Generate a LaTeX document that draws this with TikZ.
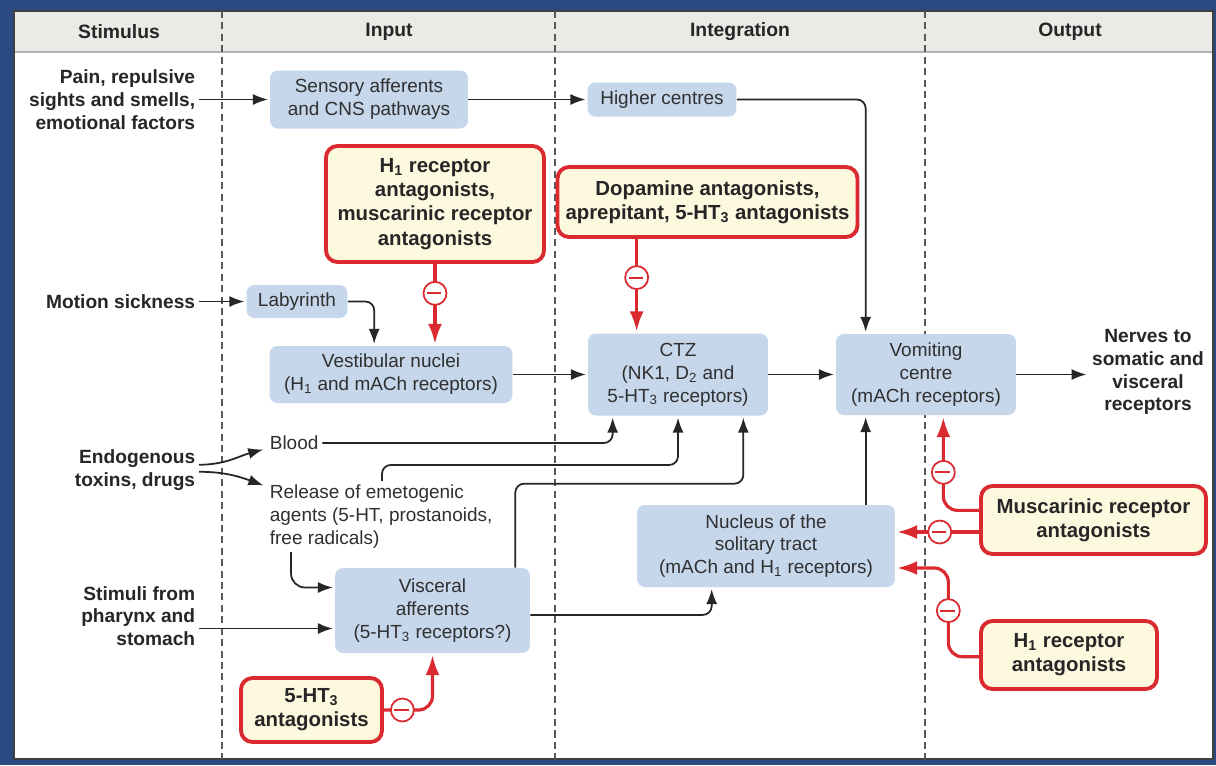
\documentclass[tikz,border=0pt]{standalone}
\usepackage{fontspec}
\setmainfont{Liberation Sans}
\usetikzlibrary{arrows.meta,calc}

\definecolor{slide}{HTML}{2B4A82}
\definecolor{boxblue}{HTML}{C6D6EB}
\definecolor{drugfill}{HTML}{FCF9DF}
\definecolor{drugred}{HTML}{DA2A30}
\definecolor{headgray}{HTML}{ECEAE6}
\definecolor{inkgray}{HTML}{303030}

\begin{document}
\begin{tikzpicture}[x=0.02cm,y=-0.02cm,
    site/.style={fill=boxblue,rounded corners=4.5pt,align=center,
        text=inkgray,font={\fontsize{10.8}{13}\selectfont},inner sep=0pt},
    drug/.style={draw=drugred,line width=2.2pt,fill=drugfill,
        rounded corners=6.5pt,align=center,text=black!85,
        font={\fontsize{11.6}{13.8}\selectfont\bfseries},inner sep=0pt},
    cause/.style={align=right,anchor=east,text=black!85,
        font={\fontsize{10.9}{13}\selectfont\bfseries},inner sep=2pt},
    plain/.style={align=left,anchor=west,text=inkgray,
        font={\fontsize{10.8}{13}\selectfont},inner sep=2pt},
    heading/.style={font={\fontsize{11}{13}\selectfont\bfseries},text=black!85},
    flow/.style={-{Latex[length=3mm,width=2.2mm]},line width=1pt,
        black!85,shorten >=1pt},
    block/.style={-{Latex[length=4mm,width=2.8mm]},line width=1.8pt,
        drugred,shorten >=1pt},
    minus/.style={circle,draw=drugred,fill=white,line width=1pt,
        minimum size=0.46cm,inner sep=0pt,
        path picture={\draw[-,drugred,line width=1.1pt]
            ([xshift=-0.16cm]path picture bounding box.center) --
            ([xshift=0.16cm]path picture bounding box.center);}},
    divider/.style={dash pattern=on 4pt off 2.5pt,gray!70!black,line width=0.6pt},
    ]
    % Slide and panel
    \fill[slide] (0,0) rectangle (1216,765);
    \fill[white] (14,11) rectangle (1213,759);
    \fill[headgray] (14,11) rectangle (1213,52);
    \draw[gray!60,line width=0.6pt] (14,52) -- (1213,52);
    \draw[black!75,line width=0.8pt] (14,11) rectangle (1213,759);
    % Column dividers
    \foreach \xd in {222,555,925}
        \draw[divider] (\xd,11) -- (\xd,759);

    % Column headings
    \node[heading] (hstim)   at (119,32)  {Stimulus};
    \node[heading] (hinput)  at (389,32)  {Input};
    \node[heading] (hinteg)  at (740,32)  {Integration};
    \node[heading] (houtput) at (1070,32) {Output};

    % Stimuli
    \node[cause] (pain)   at (199,99.5) {Pain, repulsive\\sights and smells,\\emotional factors};
    \node[cause] (motion) at (199,301.5) {Motion sickness};
    \node[cause] (endo)   at (199,470) {Endogenous\\toxins, drugs};
    \node[cause] (stim)   at (199,616) {Stimuli from\\pharynx and\\stomach};

    % Sites
    \node[site,minimum width=3.96cm,minimum height=1.16cm] (sens) at (369,99.5)
        {Sensory afferents\\and CNS pathways};
    \node[site,minimum width=2.98cm,minimum height=0.68cm] (high) at (662,99.5)
        {Higher centres};
    \node[site,minimum width=2.02cm,minimum height=0.66cm] (laby) at (297,301.5)
        {Labyrinth};
    \node[site,minimum width=4.86cm,minimum height=1.14cm] (vest) at (391,374.5)
        {Vestibular nuclei\\(H\textsubscript{1} and mACh receptors)};
    \node[site,minimum width=3.6cm,minimum height=1.64cm] (ctz) at (678,374.5)
        {CTZ\\(NK1, D\textsubscript{2} and\\5-HT\textsubscript{3} receptors)};
    \node[site,minimum width=3.6cm,minimum height=1.62cm] (vomit) at (926,374.5)
        {Vomiting\\centre\\(mACh receptors)};
    \node[site,minimum width=5.16cm,minimum height=1.64cm] (nts) at (766,546)
        {Nucleus of the\\solitary tract\\(mACh and H\textsubscript{1} receptors)};
    \node[site,minimum width=3.9cm,minimum height=1.7cm] (visc) at (432.5,610.5)
        {Visceral\\afferents\\(5-HT\textsubscript{3} receptors?)};
    \node[plain] (blood)   at (266,443) {Blood};
    \node[plain] (release) at (266,516.5)
        {Release of emetogenic\\agents (5-HT, prostanoids,\\free radicals)};
    \node[cause,anchor=center,align=center] (nerves) at (1148,372)
        {Nerves to\\somatic and\\visceral\\receptors};

    % Drugs
    \node[drug,minimum width=4.36cm,minimum height=2.32cm] (antA) at (435,204)
        {H\textsubscript{1} receptor\\antagonists,\\muscarinic receptor\\antagonists};
    \node[drug,minimum width=6.0cm,minimum height=1.4cm] (antB) at (707.5,202)
        {Dopamine antagonists,\\aprepitant, 5-HT\textsubscript{3} antagonists};
    \node[drug,minimum width=4.5cm,minimum height=1.36cm] (antC) at (1093.5,520)
        {Muscarinic receptor\\antagonists};
    \node[drug,minimum width=3.52cm,minimum height=1.36cm] (antD) at (1069,655)
        {H\textsubscript{1} receptor\\antagonists};
    \node[drug,minimum width=2.82cm,minimum height=1.28cm] (antE) at (311.5,710)
        {5-HT\textsubscript{3}\\antagonists};

    % Entry points
    \coordinate (vtop)   at ($(vomit.north west)+(30,0)$);
    \coordinate (vbot)   at ($(vomit.south west)+(30,0)$);
    \coordinate (vomin)  at ($(vomit.south east)+(-73,0)$);
    \coordinate (ctzin)  at ($(ctz.north west)+(49,0)$);
    \coordinate (ntsin1) at ($(nts.east)+(0,-14)$);
    \coordinate (ntsin2) at ($(nts.east)+(0,22)$);
    \coordinate (viscin) at ($(visc.west)+(0,18)$);

    % Pathways
    \draw[flow] (pain.east) -- (pain.east -| sens.west);
    \draw[flow] (sens.east) -- (high.west);
    \draw[flow,rounded corners=5pt] (high.east) -| (vtop);
    \draw[flow] (motion.east) -- (laby.west);
    \draw[flow,rounded corners=5pt] (laby.east) -| ($(vest.north west)+(105,0)$);
    \draw[flow] (vest.east) -- (ctz.west);
    \draw[flow] (ctz.east) -- (vomit.west);
    \draw[flow] (vomit.east) -- (vomit.east -| nerves.west);
    \draw[flow] ([yshift=3pt]endo.east) to[out=0,in=195] ($(blood.west)+(-1,6)$);
    \draw[flow] ([yshift=-1pt]endo.east) to[out=0,in=160] ($(release.north west)+(-1,5)$);
    \draw[flow,rounded corners=5pt] (blood.east) -| ($(ctz.south west)+(25,0)$);
    \draw[flow,rounded corners=5pt] ($(release.north west)+(116,0)$) -- ++(0,-16)
        -| (ctz.south);
    \draw[flow,rounded corners=5pt] ($(visc.north east)+(-15,0)$) -- ++(0,-84)
        -| ($(ctz.south east)+(-25,0)$);
    \draw[flow,rounded corners=5pt] ([yshift=-2.5pt]visc.east)
        -| ($(nts.south west)+(75,0)$);
    \draw[flow] (nts.north -| vbot) -- (vbot);
    \draw[flow,rounded corners=8pt] ($(release.south west)+(25,0)$)
        |- ($(visc.west)+(0,-23)$);
    \draw[flow] (stim.east |- viscin) -- (viscin);

    % Blocking
    \draw[block] (antA.south) -- (antA.south |- vest.north) node[minus,pos=0.36] {};
    \draw[block] (antB.south -| ctzin) -- (ctzin) node[minus,pos=0.41] {};
    \draw[block,rounded corners=8pt] ([yshift=5.5pt]antC.west) -| (vomin)
        node[minus,pos=0.7] {};
    \draw[block] (antC.west |- ntsin1) -- (ntsin1) node[minus,pos=0.47] {};
    \draw[block,rounded corners=8pt] ([yshift=-1pt]antD.west)
        -| ($(ntsin2)+(53,0)$) node[minus,pos=0.76] {} -- (ntsin2);
    \draw[block,rounded corners=8pt] (antE.east) -| (visc.south)
        node[minus,pos=0.19] {};
\end{tikzpicture}
\end{document}
